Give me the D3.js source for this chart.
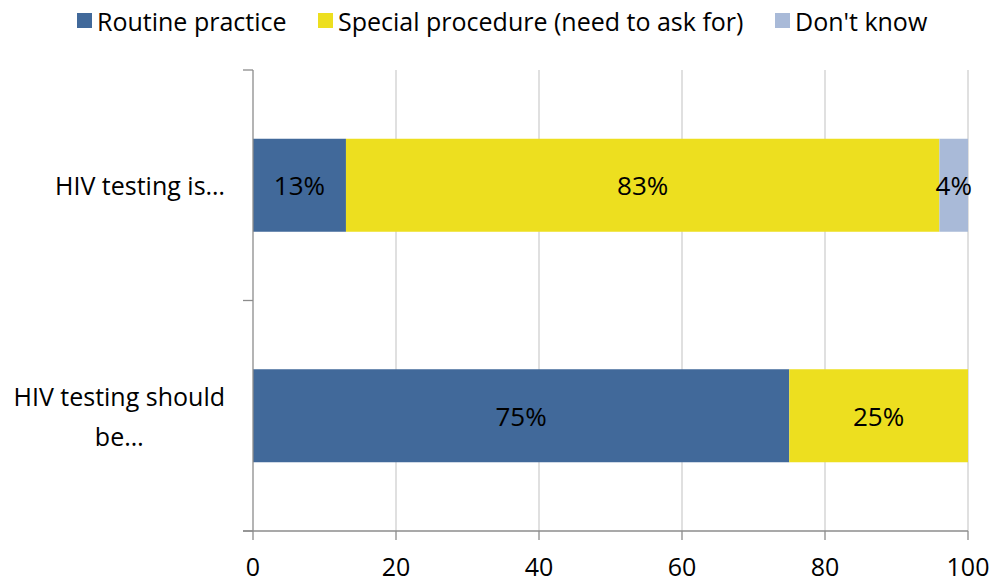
<!DOCTYPE html>
<html><head><meta charset="utf-8">
<script src="https://cdn.jsdelivr.net/npm/d3@7"></script>
<style>body{margin:0;background:#fff}svg{display:block}text{font-family:"Open Sans","Liberation Sans",sans-serif;fill:#000}</style>
</head><body><svg id="c" width="995" height="582"></svg>
<script>
const categories = ["HIV testing is…", "HIV testing should be…"];
const categoryLines = [["HIV testing is…"], ["HIV testing should", "be…"]];
const seriesNames = ["Routine practice", "Special procedure (need to ask for)", "Don't know"];
const routine = [13, 75];
const special = [83, 25];
const dontKnow = [4, 0];
const xTicks = [0, 20, 40, 60, 80, 100];
const colors = ["#41699A", "#EDDF1F", "#A9BAD8"];

const svg = d3.select("#c");
const m = {l: 253, r: 968, t: 70, b: 531};
const x = d3.scaleLinear().domain([0, 100]).range([m.l, m.r]);
const y = d3.scaleBand().domain(categories).range([m.t, m.b]).paddingInner(0).paddingOuter(0);
const barH = 93;

// gridlines
svg.append("g").selectAll("line").data(xTicks.slice(1)).join("line")
  .attr("x1", d => x(d)).attr("x2", d => x(d)).attr("y1", m.t).attr("y2", m.b)
  .attr("stroke", "#d0d0d0").attr("stroke-width", 1.3);

const table = categories.map((c, i) => ({cat: c, vals: [routine[i], special[i], dontKnow[i]]}));
const stack = d3.stack().keys([0, 1, 2]).value((d, k) => d.vals[k])(table);

const g = svg.append("g");
stack.forEach((layer, k) => {
  layer.forEach(seg => {
    const w = x(seg[1]) - x(seg[0]);
    if (w <= 0) return;
    const yc = y(seg.data.cat) + y.bandwidth() / 2;
    g.append("rect").attr("x", x(seg[0])).attr("y", yc - barH / 2)
      .attr("width", w).attr("height", barH).attr("fill", colors[k]);
    g.append("text").attr("x", (x(seg[0]) + x(seg[1])) / 2).attr("y", yc)
      .attr("text-anchor", "middle").attr("dominant-baseline", "central")
      .attr("font-size", 26).text(seg.data.vals[k] + "%");
  });
});

// axes
const ax = svg.append("g");
ax.append("line").attr("x1", m.l).attr("x2", m.l).attr("y1", m.t).attr("y2", m.b).attr("stroke", "#8c8c8c").attr("stroke-width", 1.3);
ax.append("line").attr("x1", m.l - 10).attr("x2", m.r).attr("y1", m.b).attr("y2", m.b).attr("stroke", "#8c8c8c").attr("stroke-width", 1.3);
const yb = [m.t, m.t + y.bandwidth(), m.b];
ax.selectAll(".yt").data(yb).join("line").attr("x1", m.l - 10).attr("x2", m.l)
  .attr("y1", d => d).attr("y2", d => d).attr("stroke", "#8c8c8c").attr("stroke-width", 1.3);
ax.selectAll(".xt").data(xTicks).join("line").attr("x1", d => x(d)).attr("x2", d => x(d))
  .attr("y1", m.b).attr("y2", m.b + 9).attr("stroke", "#8c8c8c").attr("stroke-width", 1.3);
ax.selectAll(".xl").data(xTicks).join("text").attr("x", d => x(d)).attr("y", 566)
  .attr("text-anchor", "middle").attr("dominant-baseline", "central").attr("font-size", 25).text(d => d);

// category labels
categories.forEach((c, i) => {
  const lines = categoryLines[i];
  const yc = y(c) + y.bandwidth() / 2;
  const lh = 40;
  const t = svg.append("text").attr("font-size", 25).attr("text-anchor", "middle");
  lines.forEach((ln, j) => {
    t.append("tspan").attr("x", 0).attr("y", yc + (j - (lines.length - 1) / 2) * lh)
      .attr("dominant-baseline", "central").text(ln);
  });
  const bb = t.node().getBBox();
  t.selectAll("tspan").attr("x", 225 - bb.width / 2);
});

// legend
const lg = svg.append("g");
const lx = [77, 318, 775];
seriesNames.forEach((s, i) => {
  lg.append("rect").attr("x", lx[i]).attr("y", 13).attr("width", 15).attr("height", 15).attr("fill", colors[i]);
  lg.append("text").attr("x", lx[i] + 20).attr("y", 21).attr("dominant-baseline", "central")
    .attr("font-size", 25).text(s);
});
</script></body></html>
